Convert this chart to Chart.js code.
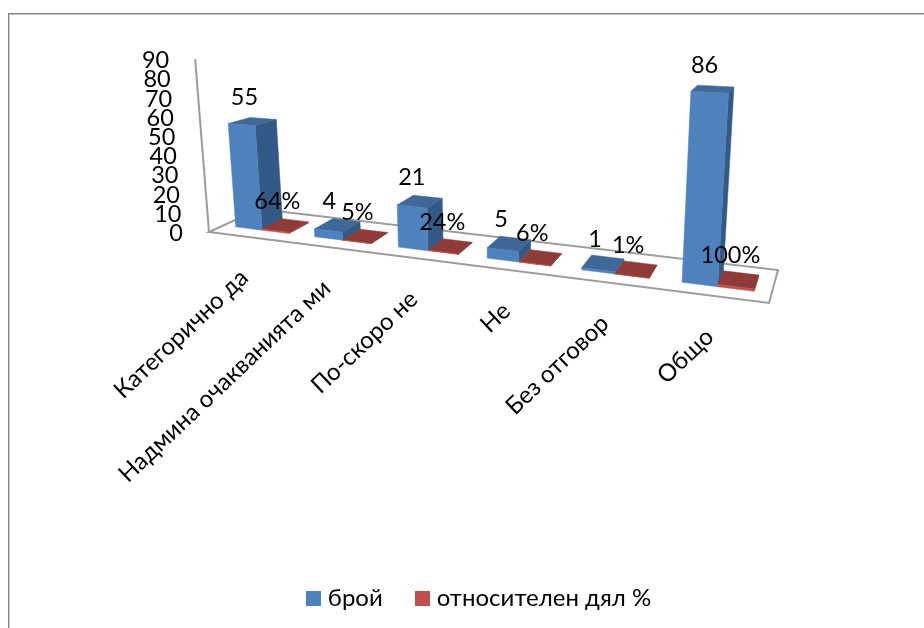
<!DOCTYPE html>
<html>
<head>
<meta charset="utf-8">
<title>chart</title>
<script src="https://cdn.jsdelivr.net/npm/chart.js@4"></script>
<style>
  html, body { margin: 0; padding: 0; background: #fff; overflow: hidden; }
  #frame { position: absolute; left: 8px; top: 13px; width: 930px; height: 640px;
           border-left: 1px solid #858585; border-top: 1px solid #858585;
           box-shadow: inset 1px 1px 0 #c6c6c6; }
  #c { position: absolute; left: 0; top: 0; }
</style>
</head>
<body>
<div id="frame"></div>
<canvas id="c" width="924" height="628"></canvas>
<script>
const categories = ['Категорично да', 'Надмина очакванията ми', 'По-скоро не', 'Не', 'Без отговор', 'Общо'];
const countValues = [55, 4, 21, 5, 1, 86];
const shareValues = [0.64, 0.05, 0.24, 0.06, 0.01, 1];
const seriesNames = ['брой', 'относителен дял %'];
const axisMax = 90;
const axisStep = 10;

const FONT = 'Lato, "Noto Sans", sans-serif';

// floor corners of the tilted 3D view and how height shrinks with depth
const view = {
  fl: [209, 232], fr: [769, 303], bl: [259, 209], br: [778, 270],
  warp: 0.2, barFront: 0.29, barBack: 0.72,
  unit0: 1.92, unit1: 0.43, depthFade: 0.088,
  vanishX: 509, lean: 0.000267
};

const lerp = (a, b, t) => a + (b - a) * t;

// u: 0..1 along the x axis, d: 0..1 into the floor, v: axis value
function project(u, d, v) {
  const w = u / (1 + view.warp * (1 - u));
  const fx = lerp(view.fl[0], view.fr[0], w), fy = lerp(view.fl[1], view.fr[1], w);
  const bx = lerp(view.bl[0], view.br[0], w), by = lerp(view.bl[1], view.br[1], w);
  const gx = lerp(fx, bx, d), gy = lerp(fy, by, d);
  const h = v * (view.unit0 + view.unit1 * w) * (1 - view.depthFade * d);
  return [gx + (gx - view.vanishX) * view.lean * h, gy - h];
}

function face(ctx, pts, color) {
  ctx.beginPath();
  pts.forEach((p, i) => i ? ctx.lineTo(p[0], p[1]) : ctx.moveTo(p[0], p[1]));
  ctx.closePath();
  ctx.fillStyle = color;
  ctx.fill();
  ctx.strokeStyle = color;
  ctx.lineWidth = 0.5;
  ctx.stroke();
}

function drawBar(ctx, u0, u1, v, colors) {
  const f = view.barFront, b = view.barBack;
  // right side, top, then front
  face(ctx, [project(u1, f, 0), project(u1, b, 0), project(u1, b, v), project(u1, f, v)], colors.side);
  face(ctx, [project(u0, f, v), project(u1, f, v), project(u1, b, v), project(u0, b, v)], colors.top);
  face(ctx, [project(u0, f, 0), project(u1, f, 0), project(u1, f, v), project(u0, f, v)], colors.front);
}

const barColors = [
  { front: '#4f81bd', top: '#3f6797', side: '#335a86' },
  { front: '#c0504d', top: '#8f3b39', side: '#7d3230' }
];

// legend swatch wider than its slot so the text sits close to it, as in the original
function swatch(color) {
  const cv = document.createElement('canvas');
  cv.width = 15;
  cv.height = 15;
  const g = cv.getContext('2d');
  g.fillStyle = color;
  g.fillRect(0, 0, 15, 15);
  return cv;
}
const swatches = barColors.map(c => swatch(c.front));

function text(ctx, str, x, y, align) {
  ctx.textAlign = align || 'center';
  ctx.textBaseline = 'middle';
  ctx.fillText(str, x, y);
}

const view3d = {
  id: 'view3d',
  // bars are cancelled here and redrawn through the projection
  beforeDatasetsDraw(chart) {
    const ctx = chart.ctx;
    const area = chart.chartArea;
    const yScale = chart.scales.y;
    const toU = px => (px - area.left) / area.width;

    ctx.save();
    // floor and wall line
    ctx.strokeStyle = '#9c9c9c';
    ctx.lineWidth = 2;
    ctx.lineJoin = 'miter';
    ctx.beginPath();
    [[0, 0], [1, 0], [1, 1], [0, 1]].forEach((c, i) => {
      const p = project(c[0], c[1], 0);
      i ? ctx.lineTo(p[0], p[1]) : ctx.moveTo(p[0], p[1]);
    });
    ctx.closePath();
    ctx.stroke();
    const a0 = project(0, 0, 0), a1 = project(0, 0, axisMax);
    ctx.beginPath();
    ctx.moveTo(a0[0], a0[1]);
    ctx.lineTo(a1[0], a1[1]);
    ctx.stroke();

    categories.forEach((cat, i) => {
      chart.data.datasets.forEach((ds, k) => {
        const el = chart.getDatasetMeta(k).data[i];
        const v = yScale.getValueForPixel(el.y);
        drawBar(ctx, toU(el.x - el.width / 2), toU(el.x + el.width / 2), v, barColors[k]);
      });
    });

    ctx.fillStyle = '#000';
    ctx.font = '23.5px ' + FONT;

    // axis labels follow the slanted wall
    yScale.ticks.forEach(t => {
      const p = project(0, 0, t.value);
      text(ctx, t.label, p[0] - 26, p[1] + 1.5, 'right');
    });

    // value labels
    chart.data.datasets.forEach((ds, k) => {
      chart.getDatasetMeta(k).data.forEach((el, i) => {
        const v = yScale.getValueForPixel(el.y);
        const p = project(toU(el.x), (view.barFront + view.barBack) / 2, v);
        const label = k === 0 ? String(ds.data[i]) : Math.round(ds.data[i] * 100) + '%';
        text(ctx, label, p[0] - 8, p[1] - 24);
      });
    });

    // category labels hang off the sloped front edge
    const xScale = chart.scales.x;
    categories.forEach((cat, i) => {
      const p = project(toU(xScale.getPixelForTick(i)), 0, 0);
      ctx.save();
      ctx.translate(p[0] - 4, p[1] + 37);
      ctx.rotate(-43.5 * Math.PI / 180);
      ctx.font = '24px ' + FONT;
      text(ctx, cat, 0, 0, 'right');
      ctx.restore();
    });
    ctx.restore();
    return false;
  }
};

new Chart(document.getElementById('c'), {
  type: 'bar',
  plugins: [view3d],
  data: {
    labels: categories,
    datasets: [
      { label: seriesNames[0], data: countValues, backgroundColor: barColors[0].front },
      { label: seriesNames[1], data: shareValues, backgroundColor: barColors[1].front }
    ]
  },
  options: {
    responsive: false,
    animation: false,
    layout: { padding: { left: 38, bottom: 8 } },
    datasets: { bar: { barPercentage: 1, categoryPercentage: 0.68 } },
    scales: {
      x: { ticks: { display: false }, grid: { display: false }, border: { display: false } },
      y: {
        min: 0, max: axisMax,
        ticks: { display: false, stepSize: axisStep },
        grid: { display: false }, border: { display: false }
      }
    },
    plugins: {
      tooltip: { enabled: false },
      legend: {
        position: 'bottom',
        labels: {
          usePointStyle: true, pointStyleWidth: 5, boxHeight: 15,
          padding: 37, color: '#000', font: { family: FONT, size: 24 },
          generateLabels(chart) {
            return Chart.defaults.plugins.legend.labels.generateLabels(chart)
              .map((item, i) => ({ ...item, pointStyle: swatches[i] }));
          }
        }
      }
    }
  }
});
</script>
</body>
</html>
